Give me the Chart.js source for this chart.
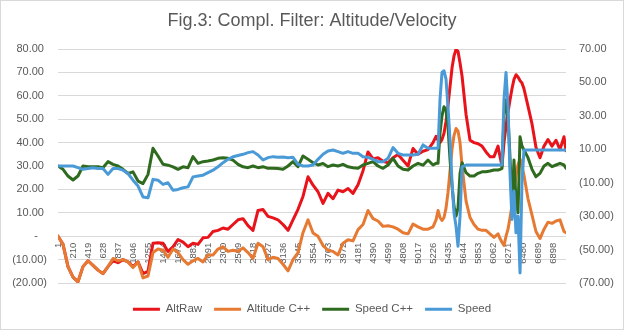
<!DOCTYPE html>
<html lang="en">
<head>
  <meta charset="UTF-8">
  <title>Fig.3: Compl. Filter: Altitude/Velocity</title>
  <script src="https://cdn.jsdelivr.net/npm/chart.js"></script>
  <style>
    body {
      margin: 0;
      background: #ffffff;
      overflow: hidden;
    }
  </style>
</head>
<body>

<canvas id="myChart" width="624" height="330"></canvas>

<script>
  const sampleNo = [
    1, 71, 140, 210, 279, 349, 419, 488, 558, 627,
    697, 767, 836, 906, 975, 1045, 1115, 1184, 1254, 1323,
    1393, 1463, 1532, 1602, 1671, 1741, 1811, 1880, 1950, 2019,
    2089, 2159, 2228, 2298, 2367, 2437, 2507, 2576, 2646, 2715,
    2785, 2855, 2924, 2994, 3063, 3133, 3203, 3272, 3342, 3411,
    3481, 3551, 3620, 3690, 3759, 3829, 3899, 3968, 4038, 4107,
    4177, 4247, 4316, 4386, 4455, 4525, 4595, 4664, 4734, 4803,
    4873, 4943, 5012, 5082, 5151, 5221,
    5263, 5291, 5318, 5346, 5374, 5402, 5430, 5458, 5486, 5513, 5541, 5569, 5597, 5625,
    5681, 5736, 5792, 5848, 5903, 5959, 6014, 6070, 6126,
    6154, 6181, 6209, 6237, 6265, 6293, 6320, 6348, 6376, 6404, 6432, 6459, 6487,
    6543, 6599, 6654, 6710, 6766, 6821, 6877, 6933, 6988, 7044, 7072
  ];

  // left axis
  const altRaw = [
    0, -3.5, -13, -17.5, -19.5, -13, -10.5, -12.5, -14.5, -16,
    -13, -10.5, -11.3, -10, -11, -13, -11, -16, -15, -3,
    -2.8, -3, -6.5, -4.5, -1.4, -2.5, -4.5, -3, -3.5, -0.7,
    -0.5, 2, 2.5, 3.5, 3, 5, 7, 7.5, 4.5, 2.5,
    11, 11.4, 8.5, 7.8, 7, 5, 2.5, 7, 11.5, 17,
    25.4, 21.8, 19, 14, 18.3, 16, 19.7, 19, 20.4, 18.3,
    22, 28, 36, 33, 33.5, 32, 31.4, 33.5, 34.9, 32.5,
    30, 37.5, 35, 36.3, 37, 40,
    42.7, 41, 40, 41.3, 44, 49, 56, 64, 72, 77, 79.8, 79, 74, 68.4,
    52, 41, 40, 39.5, 38.5, 36, 34, 34, 38.5,
    34, 30, 40, 47, 53, 58.3, 63, 67, 69, 68, 66.5, 65.5, 63,
    55.6, 48, 38, 33.5, 38.5, 41.3, 38.5, 41, 37, 42.5, 36.5
  ];
  const altCpp = [
    0, -3.5, -13, -17.5, -19.5, -13, -10.5, -12.5, -14.5, -16,
    -13, -9.5, -10.5, -10, -11, -13.4, -11, -17.8, -17, -7,
    -5.5, -6, -9, -5.5, -7, -10, -12, -10.5, -9.5, -11,
    -8, -8, -5.5, -4.5, -6.5, -6, -6.5, -5, -7, -9.5,
    -3, -4.5, -10, -9, -9.5, -12, -14.8, -10, -7, 1.5,
    7, 1.4, 0, -4, -6, -6.5, -8, -3, -1.5, -2,
    2.8, 5, 11, 7.5, 6.5, 4.2, 4.5, 4, 3, 1.5,
    1, 5.2, 4, 3, 3, 4,
    7, 11, 8, 6.7, 8, 12, 18.8, 28, 37.3, 43, 46, 45, 40, 30,
    15, 8, 5, 3, 2.5, 2.5, 1, -0.5, 1,
    -1, -2.6, -4, 0, 3, 8, 13, 19, 26, 30.5, 33, 30, 26,
    16, 9, 2, -1, 3, 6, 5.5, 6.5, 7, 2, 1.5
  ];

  // right axis
  const speedCpp = [
    0, -2, -6, -8.4, -6, 0, -0.5, -0.4, -0.4, -1,
    2.6, 1, 0, -2, -4.5, -3.5, -9, -10.5, -5, 10.6,
    6, 1, 0.5, -0.5, -2, -0.5, -1, 5.6, 1.6, 2.6,
    3, 3.6, 4.6, 5, 4.6, 3.5, 1, -0.5, -1, 0,
    -1, -0.4, -1.4, -1.4, -1.5, -2, 0, 2.6, -0.4, 6,
    4, 2, 0.6, 1.5, -0.4, 0.6, 0, 1, -0.5, -1,
    -1.4, 0.6, 1.6, 2.6, 0, -1.4, 0.6, 4.6, 0, -2,
    -2.4, 0, 1.6, 0.5, 3.6, 0.6,
    1.6, 1.6, 19.5, 30, 35.5, 33.5, 23.5, 3.6, -12, -24, -30, -25, -4.4, 2,
    -4, -6, -6, -4.4, -3.5, -3.4, -3, -2.4, -2.4,
    -2, -1.4, 30, 39.5, 29.5, 5, -24, 3.6, -20, -28, 17.5, 12, 9.6,
    5, -2, -6.4, -4.4, 0, 1.6, -0.4, 0.6, 1.6, 0.6, -1.4
  ];
  const speed = [
    0, 0, 0, 0, -1, -2, -1.5, -1, -1.5, -1.5,
    -5, -1.5, -1.5, -2.5, -4.5, -8.5, -12, -18.5, -19, -8,
    -8.5, -11, -10, -14.5, -14, -13, -12.5, -6.5, -6, -5.5,
    -4, -2.5, -0.5, 2, 4, 5.5, 6.3, 7, 8, 8.6,
    6.6, 3.6, 5, 5.6, 5.2, 5.4, 5, 5.2, 1, 0,
    0, 0.6, 4, 7, 9, 9.6, 8.6, 7.6, 8.6, 7.6,
    7.6, 5.6, 5.2, 4, 2.6, 2.6, 4.6, 11, 7.6, 6.6,
    6.6, 6.6, 7, 12.6, 10.6, 10.6,
    10.6, 10.6, 39.5, 56, 57, 52, 35, 15, -10, -28, -36, -48, -30, -0.5,
    0.6, 0.6, 0.6, 0.6, 0.6, 0.6, 0.6, 0.6, 0.6,
    0.6, 0.6, 40, 56, 35, -5, -32, -15, -40, -30, -64, -10, 9.6,
    9.6, 9.6, 9.6, 9.6, 9.6, 9.6, 9.6, 9.6, 9.6, 9.6, 9.6
  ];

  const xTickLabels = [
    1, 210, 419, 628, 837, 1046, 1255, 1464, 1673, 1882, 2091, 2300,
    2509, 2718, 2927, 3136, 3345, 3554, 3763, 3972, 4181, 4390, 4599,
    4808, 5017, 5226, 5435, 5644, 5853, 6062, 6271, 6480, 6689, 6898
  ];

  const grey = '#595959';
  const font = 'Liberation Sans, Arial, sans-serif';

  function pts(arr) {
    return sampleNo.map((x, i) => ({ x: x, y: arr[i] }));
  }

  // accounting-style numbers, like the spreadsheet
  function leftLabel(v) {
    if (v === 0) return '-   ';
    const s = Math.abs(v).toFixed(2);
    return v < 0 ? '(' + s + ')' : s + ' ';
  }
  function rightLabel(v) {
    const s = Math.abs(v).toFixed(2);
    return v < 0 ? '(' + s + ')' : s;
  }

  function line(label, arr, color, axis, order) {
    return {
      label: label,
      data: pts(arr),
      yAxisID: axis,
      borderColor: color,
      backgroundColor: color,
      borderWidth: 3,
      pointRadius: 0,
      tension: 0,
      borderJoinStyle: 'round',
      borderCapStyle: 'round',
      order: order
    };
  }

  const frame = {
    id: 'frame',
    beforeDraw(chart) {
      const c = chart.ctx;
      c.save();
      c.fillStyle = '#ffffff';
      c.fillRect(0, 0, chart.width, chart.height);
      c.restore();
    },
    afterDraw(chart) {
      const c = chart.ctx;
      c.save();
      c.strokeStyle = '#d9d9d9';
      c.lineWidth = 1;
      c.strokeRect(0.5, 0.5, chart.width - 1, chart.height - 1);
      c.restore();
    }
  };

  const ctx = document.getElementById('myChart').getContext('2d');
  const myChart = new Chart(ctx, {
    type: 'line',
    data: {
      datasets: [
        line('AltRaw', altRaw, '#e8131b', 'y', 4),
        line('Altitude C++', altCpp, '#e67a33', 'y', 3),
        line('Speed C++', speedCpp, '#2f6b1f', 'y1', 2),
        line('Speed', speed, '#4a9ad8', 'y1', 1)
      ]
    },
    options: {
      responsive: false,
      animation: false,
      layout: { padding: { top: 0, bottom: 5, left: 0, right: 0 } },
      plugins: {
        tooltip: { enabled: false },
        title: {
          display: true,
          text: 'Fig.3: Compl. Filter: Altitude/Velocity',
          color: grey,
          font: { family: font, size: 18, weight: 'normal' },
          padding: { top: 10, bottom: 17.4 }
        },
        legend: {
          position: 'bottom',
          labels: {
            color: grey,
            font: { family: font, size: 11.5 },
            boxWidth: 27,
            boxHeight: 3,
            padding: 12,
            sort: (a, b) => a.datasetIndex - b.datasetIndex,
            generateLabels: (chart) =>
              Chart.defaults.plugins.legend.labels.generateLabels(chart)
                .map(l => Object.assign(l, { lineWidth: 0 }))
          }
        }
      },
      scales: {
        x: {
          type: 'linear',
          position: { y: 0 },
          min: 1,
          max: 7072,
          grid: { display: false, drawTicks: false },
          border: { display: false },
          afterBuildTicks: (s) => { s.ticks = xTickLabels.map(v => ({ value: v })); },
          ticks: {
            autoSkip: false,
            minRotation: 90,
            maxRotation: 90,
            padding: 6.5,
            color: grey,
            font: { family: font, size: 9.5 },
            callback: (v) => String(v)
          }
        },
        pad: {
          type: 'linear',
          position: 'bottom',
          display: true,
          grid: { display: false },
          border: { display: false },
          ticks: { display: false },
          afterFit: (s) => { s.height = 8.5; }
        },
        y: {
          position: 'left',
          min: -20,
          max: 80,
          grid: { color: '#d9d9d9', lineWidth: 1, drawTicks: false },
          border: { display: false },
          afterFit: (s) => { s.width = 58; },
          ticks: {
            stepSize: 10,
            padding: 11,
            color: grey,
            font: { family: font, size: 11 },
            callback: (v) => leftLabel(v)
          }
        },
        y1: {
          position: 'right',
          min: -70,
          max: 70,
          grid: { display: false, drawTicks: false },
          border: { display: false },
          afterFit: (s) => { s.width = 58; },
          ticks: {
            stepSize: 20,
            padding: 13,
            color: grey,
            font: { family: font, size: 11 },
            callback: (v) => rightLabel(v)
          }
        }
      }
    },
    plugins: [frame]
  });
</script>

</body>
</html>
